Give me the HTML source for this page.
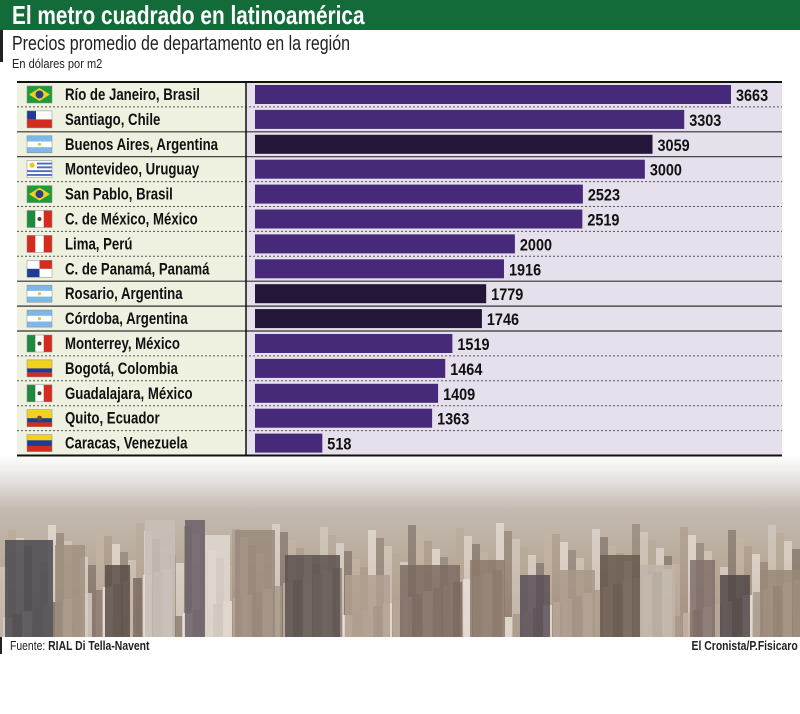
<!DOCTYPE html>
<html><head><meta charset="utf-8"><style>
body{margin:0;width:800px;height:714px;background:#fff;font-family:"Liberation Sans",sans-serif;position:relative;overflow:hidden}
.abs{position:absolute}
#title{left:0;top:0;width:800px;height:30px;background:#136b3a;color:#fff;font-weight:bold;font-size:26px;line-height:30px;padding-left:12px;box-sizing:border-box}
</style></head><body>
<div id="title" class="abs"><span style="display:inline-block;transform:scaleX(0.8);transform-origin:0 0;white-space:nowrap">El metro cuadrado en latinoamérica</span></div>
<div class="abs" style="left:0;top:30px;width:3px;height:32px;background:#222"></div>
<div class="abs" style="left:12px;top:33px;font-size:20px;color:#222;white-space:nowrap;transform:scaleX(0.8);transform-origin:0 0">Precios promedio de departamento en la región</div>
<div class="abs" style="left:12px;top:56px;font-size:13px;color:#222;white-space:nowrap;transform:scaleX(0.85);transform-origin:0 0">En dólares por m2</div>
<svg class="abs" style="left:0;top:0" width="800" height="714" id="chart"></svg>
<div class="abs" style="left:0;top:637px;width:2px;height:17px;background:#222"></div>
<div class="abs" style="left:10px;top:638px;font-size:13px;color:#222;white-space:nowrap;transform:scaleX(0.8);transform-origin:0 0">Fuente: <b>RIAL Di Tella-Navent</b></div>
<div class="abs" style="right:2px;top:638px;font-size:13px;font-weight:bold;color:#222;white-space:nowrap;transform:scaleX(0.8);transform-origin:100% 0">El Cronista/P.Fisicaro</div>
<script>
const cities=["Río de Janeiro, Brasil","Santiago, Chile","Buenos Aires, Argentina","Montevideo, Uruguay","San Pablo, Brasil","C. de México, México","Lima, Perú","C. de Panamá, Panamá","Rosario, Argentina","Córdoba, Argentina","Monterrey, México","Bogotá, Colombia","Guadalajara, México","Quito, Ecuador","Caracas, Venezuela"];
const values=[3663,3303,3059,3000,2523,2519,2000,1916,1779,1746,1519,1464,1409,1363,518];
const flags=["br","cl","ar","uy","br","mx","pe","pa","ar","ar","mx","co","mx","ec","ve"];
const NS="http://www.w3.org/2000/svg";
const svg=document.getElementById('chart');
const x0=255,scale=(731-255)/3663,top0=82,rowH=24.9;
const xPos=v=>x0+v*scale;
const yPos=i=>top0+i*rowH;
function mk(t,a,p){const e=document.createElementNS(NS,t);for(const k in a)e.setAttribute(k,a[k]);(p||svg).appendChild(e);return e;}
// photo
const g=mk('g',{});


const defs=mk('defs',{});
defs.innerHTML='<linearGradient id="sky" x1="0" y1="0" x2="0" y2="1"><stop offset="0" stop-color="#fff"/><stop offset="0.15" stop-color="#e2dfdc"/><stop offset="0.3" stop-color="#c4bab0"/><stop offset="0.6" stop-color="#b8aa9a"/><stop offset="1" stop-color="#9a8878"/></linearGradient>';
mk('rect',{x:0,y:455,width:800,height:182,fill:'url(#sky)'},g);
// background small buildings (decorative pattern)
const shade=["#d8cec4","#a89888","#e8e0d8","#8c7c70","#c4b4a4","#b8a898","#f0e8e0","#786860"];
for(let k=0;k<100;k++){const x=k*8;const h=30+((k*37)%45);mk('rect',{x:x,y:637-h-40,width:8,height:h+40,fill:shade[(k*5)%8],opacity:0.6},g);}
for(let k=0;k<80;k++){const x=k*10+3;const h=20+((k*53)%50);mk('rect',{x:x,y:637-h,width:9,height:h,fill:shade[(k*3)%8],opacity:0.8},g);}
const bx=[5,55,105,145,185,205,235,285,345,400,470,520,560,600,640,690,720,760];
const bw=[48,30,25,30,20,25,40,55,45,60,35,30,35,40,35,25,30,40];
const bt=[565,570,590,545,545,560,555,580,600,590,585,600,595,580,590,585,600,595];
const bc=["#4a4a50","#a09080","#5a4e48","#c8c0b8","#6a6068","#e0d8d0","#9a8a7c","#5c5250","#b0a090","#7a6a60","#8c7a6c","#5a5058","#a89888","#6a5a50","#c0b4a8","#80706a","#504848","#9a8878"];
for(let i=0;i<bx.length;i++)mk('rect',{x:bx[i],y:bt[i]-25,width:bw[i],height:637-bt[i]+25,fill:bc[i],opacity:0.85},g);
// table bg
mk('rect',{x:17,y:top0,width:229,height:rowH*15,fill:'#eef0e0'});
mk('rect',{x:246,y:top0,width:536,height:rowH*15,fill:'#e6e0ec'});
const argRow=flags.map(f=>f==='ar');
function flag(f,x,y){const G=mk('g',{});
const w=25,h=17;
const R=(a)=>mk('rect',a,G);
if(f==='br'){R({x,y,width:w,height:h,fill:'#1f9a3a'});mk('polygon',{points:`${x+12.5},${y+2} ${x+23},${y+8.5} ${x+12.5},${y+15} ${x+2},${y+8.5}`,fill:'#f3d21c'},G);mk('circle',{cx:x+12.5,cy:y+8.5,r:4,fill:'#2a3d8f'},G);}
else if(f==='cl'){R({x,y,width:w,height:h,fill:'#fff'});R({x,y:y+8.5,width:w,height:8.5,fill:'#d52b1e'});R({x,y,width:9,height:8.5,fill:'#1f3c94'});}
else if(f==='ar'){R({x,y,width:w,height:h,fill:'#7cb8e8'});R({x,y:y+5.7,width:w,height:5.7,fill:'#fff'});mk('circle',{cx:x+12.5,cy:y+8.5,r:1.6,fill:'#e8c040'},G);}
else if(f==='uy'){R({x,y,width:w,height:h,fill:'#fff'});for(let k=1;k<9;k+=2)R({x,y:y+k*1.9,width:w,height:1.9,fill:'#4a6fc0'});R({x,y,width:10,height:9,fill:'#fff'});mk('circle',{cx:x+5,cy:y+4.5,r:2.5,fill:'#f0c020'},G);}
else if(f==='mx'){R({x,y,width:w,height:h,fill:'#fff'});R({x,y,width:8.3,height:h,fill:'#1e8a3e'});R({x:x+16.7,y,width:8.3,height:h,fill:'#d52b1e'});mk('circle',{cx:x+12.5,cy:y+8.5,r:2,fill:'#5a4020'},G);}
else if(f==='pe'){R({x,y,width:w,height:h,fill:'#fff'});R({x,y,width:8.3,height:h,fill:'#d52b1e'});R({x:x+16.7,y,width:8.3,height:h,fill:'#d52b1e'});}
else if(f==='pa'){R({x,y,width:w,height:h,fill:'#fff'});R({x:x+12.5,y,width:12.5,height:8.5,fill:'#d52b1e'});R({x,y:y+8.5,width:12.5,height:8.5,fill:'#1f3c94'});}
else if(f==='co'){R({x,y,width:w,height:h,fill:'#f3d21c'});R({x,y:y+8.5,width:w,height:4.25,fill:'#1f3c94'});R({x,y:y+12.75,width:w,height:4.25,fill:'#d52b1e'});}
else if(f==='ec'){R({x,y,width:w,height:h,fill:'#f3d21c'});R({x,y:y+8.5,width:w,height:4.25,fill:'#1f3c94'});R({x,y:y+12.75,width:w,height:4.25,fill:'#d52b1e'});mk('circle',{cx:x+12.5,cy:y+8.5,r:2.5,fill:'#6a5030'},G);}
else if(f==='ve'){R({x,y,width:w,height:h,fill:'#f3d21c'});R({x,y:y+5.7,width:w,height:5.7,fill:'#1f3c94'});R({x,y:y+11.3,width:w,height:5.7,fill:'#d52b1e'});}
R({x,y,width:w,height:h,fill:'none',stroke:'#888','stroke-width':0.5});}
for(let i=0;i<cities.length;i++){
  const y=yPos(i);
  if(i>0){const solid=argRow[i]||argRow[i-1];
    const ln=mk('line',{x1:17,x2:782,y1:y,y2:y,stroke:solid?'#333':'#555','stroke-width':solid?1.2:1,'stroke-dasharray':solid?'':'2,2'});
    
    }
  flag(flags[i],27,y+4);
  const t=mk('text',{x:65,y:y+18,'font-size':16.5,'font-weight':argRow[i]?'bold':'600',fill:'#111',transform:`translate(65 0) scale(0.8 1) translate(-65 0)`});
  t.textContent=cities[i];
  
  
  const b=mk('rect',{x:x0,y:y+3,width:xPos(values[i])-x0,height:19,fill:argRow[i]?'#241638':'#47297a'});
  
  
  const vx=xPos(values[i])+5;
  const v=mk('text',{x:vx,y:y+19,'font-size':17,'font-weight':'bold',fill:'#111',transform:`translate(${vx} 0) scale(0.85 1) translate(${-vx} 0)`});
  v.textContent=values[i];
  
  
}
mk('line',{x1:17,x2:782,y1:top0,y2:top0,stroke:'#111','stroke-width':2});
mk('line',{x1:17,x2:782,y1:yPos(15),y2:yPos(15),stroke:'#111','stroke-width':2});
mk('line',{x1:246,x2:246,y1:top0,y2:yPos(15),stroke:'#111','stroke-width':1.5});
</script>
</body></html>
